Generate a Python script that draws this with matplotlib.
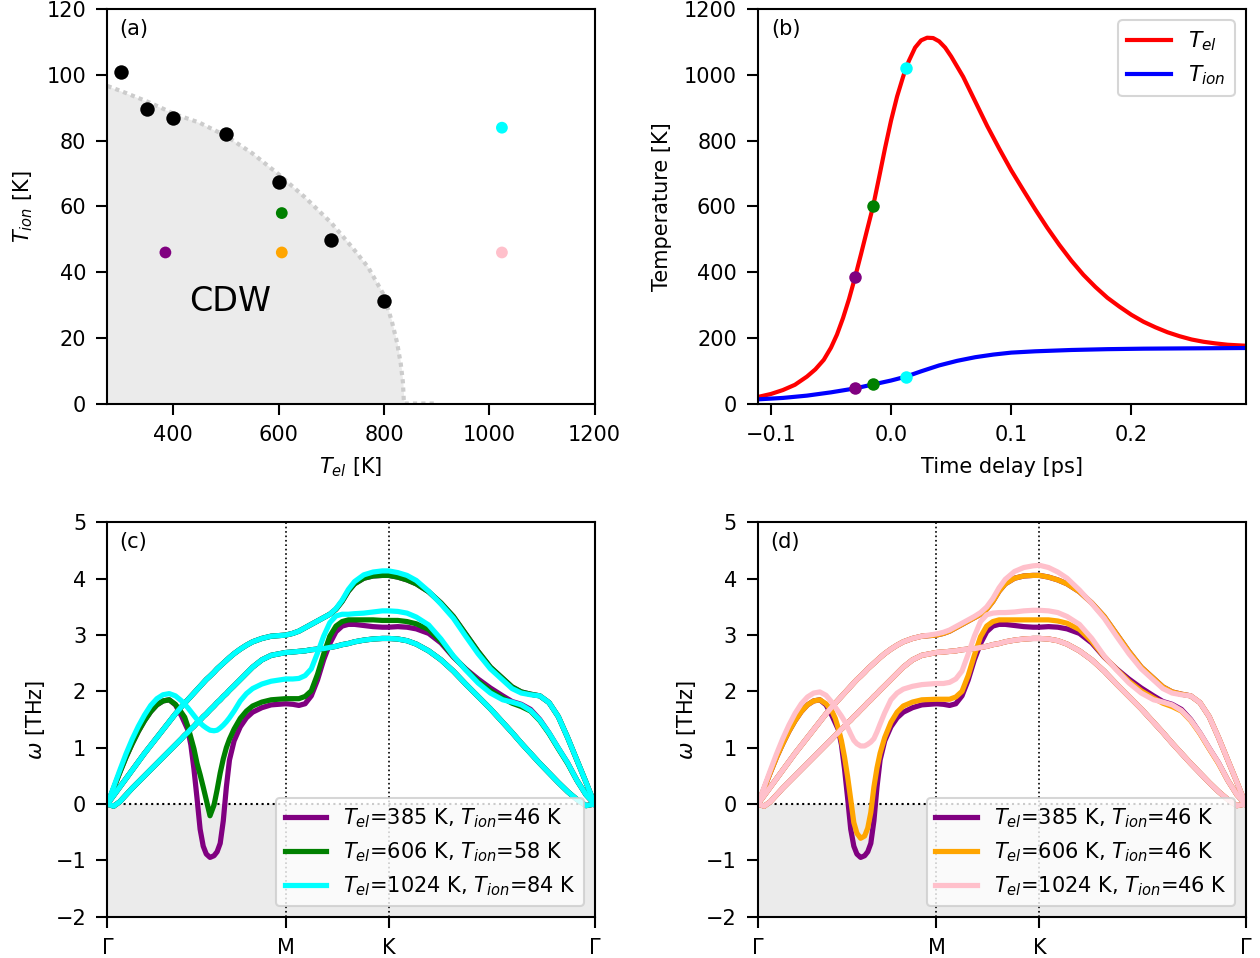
import matplotlib
matplotlib.use("Agg")
import matplotlib.pyplot as plt

plt.rcParams.update({
    'axes.linewidth': 1.0,
    'xtick.major.size': 5.2,
    'ytick.major.size': 5.2,
    'xtick.major.width': 1.0,
    'ytick.major.width': 1.0,
    'xtick.major.pad': 5.0,
    'ytick.major.pad': 5.0,
})

# ---------------- (a) phase diagram ----------------
tel_black = [300, 350, 400, 500, 600, 700, 800]
tion_black = [101.1, 89.8, 86.8, 82.0, 67.5, 49.8, 31.3]

# colored runs (T_el, T_ion)
tel_runs = [385, 606, 606, 1024, 1024]
tion_runs = [46, 58, 46, 84, 46]
run_colors = ['purple', 'green', 'orange', 'cyan', 'pink']

# CDW boundary
tel_cdw = [275, 300, 325, 350, 375, 400, 450, 500, 550, 600, 650, 700,
           740, 770, 800, 815, 825, 832, 836, 838]
tion_cdw = [96.7, 95.2, 93.6, 92.0, 90.2, 88.3, 85.5, 81.5, 76.2, 69.8, 62.8, 55.0,
            47.5, 41.5, 33.0, 25.0, 18.5, 12.0, 6.5, 0.0]
tel_cdw_tail = [838, 895]
tion_cdw_tail = [0.0, 0.0]

# ---------------- (b) two-temperature model ----------------
t_el = [-0.1107, -0.100, -0.090, -0.080, -0.070, -0.063, -0.056, -0.050, -0.045,
        -0.040, -0.035, -0.030, -0.025, -0.020, -0.015, -0.010, -0.005, 0.000,
        0.005, 0.010, 0.0125, 0.015, 0.020, 0.025, 0.030, 0.035, 0.040, 0.045,
        0.050, 0.055, 0.060, 0.070, 0.080, 0.090, 0.100, 0.110, 0.120, 0.130,
        0.140, 0.150, 0.160, 0.170, 0.180, 0.190, 0.200, 0.210, 0.220, 0.230,
        0.240, 0.250, 0.260, 0.270, 0.280, 0.2949]
temp_el = [20, 29, 41, 57, 82, 104, 133, 170, 210,
           260, 318, 384, 455, 528, 600, 688, 778, 862,
           935, 995, 1023, 1045, 1084, 1106, 1114, 1113, 1103, 1084,
           1057, 1026, 995, 920, 845, 776, 710, 650, 591, 535,
           483, 435, 392, 355, 322, 295, 270, 249, 232, 217,
           205, 195, 188, 183, 179, 176]

t_ion = [-0.1107, -0.090, -0.070, -0.050, -0.030, -0.015, 0.000, 0.0125, 0.025,
         0.040, 0.055, 0.070, 0.085, 0.100, 0.120, 0.150, 0.180, 0.210, 0.250, 0.2949]
temp_ion = [12.7, 17, 24, 34, 46, 58, 70, 82, 98,
            116, 130, 141, 149, 155, 159, 163, 165.5, 167, 168, 169]

t_marks = [-0.030, -0.015, 0.0125]
mark_colors = ['purple', 'green', 'cyan']
mark_tel = [384, 600, 1023]
mark_tion = [46, 58, 82]

# ---------------- (c),(d) phonon dispersions ----------------
k_ticks = [0.0, 0.5774, 0.9107, 1.5774]
k_labels = ['Γ', 'M', 'K', 'Γ']

k_path = [0, 0.02, 0.04, 0.06, 0.08, 0.10, 0.12, 0.14, 0.16, 0.18, 0.20, 0.22,
          0.24, 0.25, 0.26, 0.27, 0.28, 0.29, 0.30, 0.31, 0.32, 0.332, 0.345,
          0.355, 0.365, 0.375, 0.385, 0.395, 0.41, 0.43, 0.45, 0.47, 0.50, 0.53,
          0.5774,
          0.60, 0.62, 0.64, 0.66, 0.68, 0.70, 0.72, 0.74, 0.76, 0.78, 0.80, 0.83,
          0.86, 0.89, 0.9107,
          0.94, 0.97, 1.00, 1.04, 1.08, 1.12, 1.16, 1.20, 1.24, 1.28, 1.31, 1.34,
          1.37, 1.40, 1.43, 1.46, 1.49, 1.52, 1.55, 1.5774]

# lowest acoustic branch, same for all runs
low_all = [0, -0.04, 0.04, 0.16, 0.28, 0.39, 0.50, 0.61, 0.72, 0.83, 0.94, 1.05,
           1.16, 1.22, 1.27, 1.33, 1.38, 1.44, 1.49, 1.55, 1.60, 1.67, 1.74,
           1.80, 1.85, 1.91, 1.96, 2.02, 2.10, 2.21, 2.32, 2.43, 2.56, 2.64,
           2.69,
           2.70, 2.71, 2.72, 2.74, 2.75, 2.76, 2.78, 2.80, 2.83, 2.85, 2.88, 2.91,
           2.93, 2.94, 2.94,
           2.93, 2.90, 2.84, 2.72, 2.56, 2.36, 2.13, 1.91, 1.69, 1.45, 1.27, 1.08,
           0.90, 0.72, 0.55, 0.38, 0.22, 0.08, -0.03, 0]

# upper branch
mid_cold = [0, 0.15, 0.30, 0.45, 0.60, 0.75, 0.90, 1.04, 1.18, 1.32, 1.46, 1.60,
            1.73, 1.79, 1.85, 1.91, 1.97, 2.03, 2.09, 2.15, 2.21, 2.27, 2.34,
            2.40, 2.45, 2.50, 2.55, 2.60, 2.67, 2.75, 2.82, 2.88, 2.94, 2.98,
            3.00,
            3.03, 3.07, 3.13, 3.19, 3.25, 3.31, 3.37, 3.46, 3.60, 3.78, 3.91, 4.01,
            4.05, 4.06, 4.06,
            4.03, 3.98, 3.91, 3.77, 3.57, 3.33, 3.02, 2.71, 2.43, 2.23, 2.08, 1.99,
            1.95, 1.92, 1.80, 1.55, 1.18, 0.78, 0.38, 0]
mid_cyan = [0, 0.15, 0.30, 0.45, 0.60, 0.75, 0.90, 1.04, 1.18, 1.32, 1.46, 1.60,
            1.73, 1.79, 1.85, 1.91, 1.97, 2.03, 2.09, 2.15, 2.21, 2.27, 2.34,
            2.40, 2.45, 2.50, 2.55, 2.60, 2.67, 2.75, 2.82, 2.88, 2.94, 2.98,
            3.00,
            3.03, 3.07, 3.13, 3.19, 3.25, 3.31, 3.37, 3.47, 3.62, 3.81, 3.95, 4.07,
            4.12, 4.14, 4.14,
            4.11, 4.06, 3.97, 3.78, 3.55, 3.30, 2.98, 2.67, 2.40, 2.20, 2.05, 1.97,
            1.94, 1.92, 1.80, 1.55, 1.18, 0.78, 0.38, 0]
mid_pink = [0, 0.15, 0.30, 0.45, 0.60, 0.75, 0.90, 1.04, 1.18, 1.32, 1.46, 1.60,
            1.73, 1.79, 1.85, 1.91, 1.97, 2.03, 2.09, 2.15, 2.21, 2.27, 2.34,
            2.40, 2.45, 2.50, 2.55, 2.60, 2.67, 2.75, 2.82, 2.88, 2.94, 2.98,
            3.02,
            3.05, 3.09, 3.15, 3.21, 3.27, 3.33, 3.40, 3.50, 3.65, 3.84, 3.99, 4.13,
            4.20, 4.23, 4.24,
            4.20, 4.12, 4.01, 3.80, 3.56, 3.30, 2.98, 2.67, 2.40, 2.20, 2.05, 1.97,
            1.94, 1.92, 1.80, 1.55, 1.18, 0.78, 0.38, 0]

# soft branch, one per run
soft_385_46 = [0, 0.28, 0.56, 0.83, 1.07, 1.29, 1.48, 1.64, 1.76, 1.83, 1.85, 1.76,
               1.56, 1.44, 1.32, 1.05, 0.62, 0.10, -0.45, -0.75, -0.89, -0.95, -0.92,
               -0.85, -0.70, -0.30, 0.30, 0.78, 1.12, 1.37, 1.53, 1.63, 1.71, 1.76,
               1.78,
               1.77, 1.75, 1.78, 1.92, 2.20, 2.56, 2.85, 3.06, 3.16, 3.19, 3.19, 3.17,
               3.15, 3.14, 3.14,
               3.15, 3.14, 3.11, 3.03, 2.86, 2.61, 2.40, 2.22, 2.06, 1.92, 1.82, 1.77,
               1.68, 1.50, 1.26, 0.99, 0.73, 0.42, 0.16, 0]
soft_606_58 = [0, 0.28, 0.56, 0.83, 1.07, 1.29, 1.48, 1.64, 1.76, 1.83, 1.85, 1.77,
               1.62, 1.54, 1.38, 1.18, 0.98, 0.72, 0.52, 0.30, 0.07, -0.21, -0.02,
               0.25, 0.55, 0.80, 1.00, 1.15, 1.33, 1.52, 1.65, 1.74, 1.81, 1.85,
               1.87,
               1.87, 1.87, 1.91, 2.01, 2.30, 2.66, 2.98, 3.16, 3.24, 3.27, 3.27, 3.27,
               3.27, 3.26, 3.26,
               3.26, 3.24, 3.20, 3.10, 2.89, 2.62, 2.39, 2.18, 2.01, 1.88, 1.79, 1.73,
               1.65, 1.48, 1.25, 0.98, 0.72, 0.42, 0.16, 0]
soft_1024_84 = [0, 0.30, 0.60, 0.89, 1.15, 1.38, 1.58, 1.75, 1.87, 1.94, 1.96, 1.92,
                1.83, 1.77, 1.71, 1.64, 1.57, 1.50, 1.44, 1.39, 1.35, 1.31, 1.30,
                1.31, 1.35, 1.40, 1.46, 1.53, 1.65, 1.83, 1.96, 2.05, 2.13, 2.18,
                2.22,
                2.22, 2.23, 2.28, 2.40, 2.68, 2.98, 3.22, 3.34, 3.37, 3.37, 3.38, 3.39,
                3.41, 3.43, 3.43,
                3.42, 3.39, 3.32, 3.18, 2.93, 2.63, 2.38, 2.15, 1.97, 1.85, 1.81, 1.76,
                1.66, 1.49, 1.26, 0.99, 0.73, 0.42, 0.16, 0]
soft_606_46 = [0, 0.28, 0.56, 0.83, 1.07, 1.29, 1.48, 1.64, 1.76, 1.83, 1.85, 1.78,
               1.64, 1.52, 1.34, 1.12, 0.83, 0.48, 0.08, -0.33, -0.52, -0.61, -0.57,
               -0.43, -0.15, 0.30, 0.64, 0.90, 1.18, 1.45, 1.63, 1.74, 1.81, 1.85,
               1.86,
               1.86, 1.86, 1.90, 2.00, 2.28, 2.64, 2.97, 3.16, 3.24, 3.27, 3.27, 3.27,
               3.27, 3.27, 3.27,
               3.27, 3.25, 3.21, 3.10, 2.89, 2.62, 2.39, 2.18, 2.01, 1.88, 1.79, 1.73,
               1.65, 1.48, 1.25, 0.98, 0.72, 0.42, 0.16, 0]
soft_1024_46 = [0, 0.30, 0.60, 0.89, 1.16, 1.40, 1.61, 1.78, 1.90, 1.97, 1.99, 1.93,
                1.80, 1.72, 1.64, 1.56, 1.47, 1.36, 1.24, 1.13, 1.07, 1.03, 1.03,
                1.06, 1.10, 1.16, 1.28, 1.42, 1.62, 1.85, 1.97, 2.04, 2.09, 2.12,
                2.14,
                2.14, 2.16, 2.22, 2.36, 2.66, 2.98, 3.24, 3.36, 3.39, 3.40, 3.40, 3.41,
                3.43, 3.44, 3.44,
                3.43, 3.40, 3.33, 3.19, 2.94, 2.63, 2.38, 2.15, 1.97, 1.85, 1.81, 1.76,
                1.66, 1.49, 1.26, 0.99, 0.73, 0.42, 0.16, 0]

runs_c = [
    (r'$T_{el}$=385 K, $T_{ion}$=46 K', 'purple', [soft_385_46, mid_cold, low_all]),
    (r'$T_{el}$=606 K, $T_{ion}$=58 K', 'green', [soft_606_58, mid_cold, low_all]),
    (r'$T_{el}$=1024 K, $T_{ion}$=84 K', 'cyan', [soft_1024_84, mid_cyan, low_all]),
]
runs_d = [
    (r'$T_{el}$=385 K, $T_{ion}$=46 K', 'purple', [soft_385_46, mid_cold, low_all]),
    (r'$T_{el}$=606 K, $T_{ion}$=46 K', 'orange', [soft_606_46, mid_cold, low_all]),
    (r'$T_{el}$=1024 K, $T_{ion}$=46 K', 'pink', [soft_1024_46, mid_pink, low_all]),
]

GRAY = '#ebebeb'

fig = plt.figure(figsize=(8.4, 958 / 150), dpi=150)
ax_a = fig.add_axes([0.0853, 0.5788, 0.3866, 0.4113])
ax_b = fig.add_axes([0.6016, 0.5788, 0.3869, 0.4113])
ax_c = fig.add_axes([0.0853, 0.0433, 0.3866, 0.4113])
ax_d = fig.add_axes([0.6016, 0.0433, 0.3869, 0.4113])

# (a)
ax_a.fill_between(tel_cdw, 0, tion_cdw, color=GRAY, lw=0, zorder=0)
ax_a.plot(tel_cdw + tel_cdw_tail[1:], tion_cdw + tion_cdw_tail[1:],
          color='#cccccc', ls=(0, (1, 1)), lw=2, zorder=1)
ax_a.scatter(tel_black, tion_black, s=48, color='k', zorder=3, lw=0)
ax_a.scatter(tel_runs, tion_runs, s=32, c=run_colors, zorder=3, lw=0)
ax_a.text(508, 31, 'CDW', fontsize=16, ha='center', va='center')
ax_a.set_xlim(275, 1200)
ax_a.set_ylim(0, 120)
ax_a.set_xlabel(r'$T_{el}$ [K]', labelpad=5)
ax_a.set_ylabel(r'$T_{ion}$ [K]', labelpad=5.5)
ax_a.text(0.025, 0.975, '(a)', transform=ax_a.transAxes, ha='left', va='top')

# (b)
ax_b.plot(t_el, temp_el, color='red', lw=2, label=r'$T_{el}$')
ax_b.plot(t_ion, temp_ion, color='blue', lw=2, label=r'$T_{ion}$')
for t, c, te, ti in zip(t_marks, mark_colors, mark_tel, mark_tion):
    ax_b.plot([t, t], [te, ti], 'o', color=c, ms=6, mew=0, zorder=4, ls='none')
ax_b.set_xlim(-0.1107, 0.2949)
ax_b.set_ylim(0, 1200)
ax_b.set_xticks([-0.1, 0.0, 0.1, 0.2])
ax_b.set_xlabel('Time delay [ps]', labelpad=6)
ax_b.set_ylabel('Temperature [K]', labelpad=5.5)
ax_b.legend(loc='upper right', fontsize=10.5)
ax_b.text(0.028, 0.975, '(b)', transform=ax_b.transAxes, ha='left', va='top')

# (c), (d)
for ax, runs, tag in [(ax_c, runs_c, '(c)'), (ax_d, runs_d, '(d)')]:
    ax.axhspan(-2, 0, color=GRAY, lw=0, zorder=0)
    ax.axhline(0, color='k', ls=':', lw=1, zorder=1)
    for kx in k_ticks[1:3]:
        ax.axvline(kx, color='k', ls=':', lw=0.8, zorder=1)
    for label, color, bands in runs:
        for i, w in enumerate(bands):
            ax.plot(k_path, w, color=color, lw=2.5, solid_joinstyle='round',
                    label=label if i == 0 else None, zorder=2)
    ax.set_xlim(k_ticks[0], k_ticks[-1])
    ax.set_ylim(-2, 5)
    ax.set_xticks(k_ticks)
    ax.set_xticklabels(k_labels)
    ax.set_ylabel(r'$\omega$ [THz]')
    ax.legend(loc='lower right')
    ax.text(0.025, 0.975, tag, transform=ax.transAxes, ha='left', va='top')

fig.savefig('out.png', dpi=150)
